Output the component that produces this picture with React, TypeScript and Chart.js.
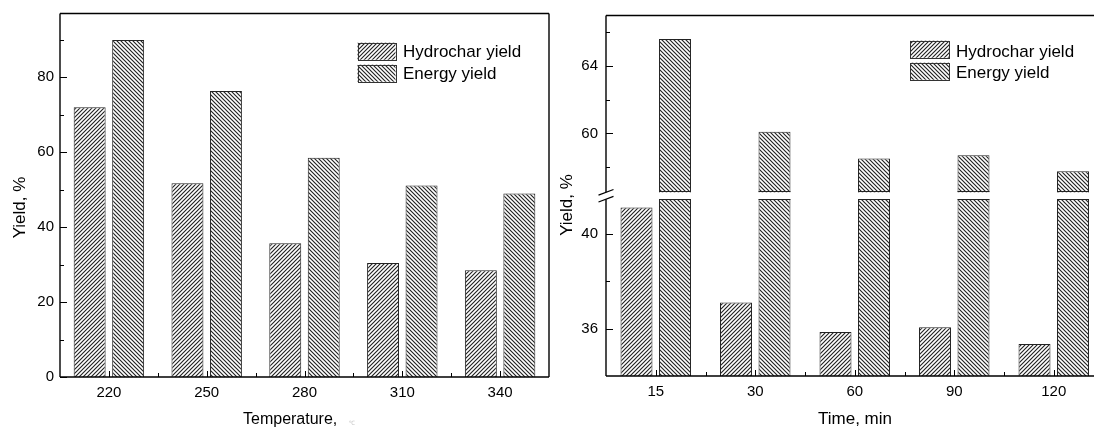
import React, { useEffect, useRef } from 'react';
import { Chart, registerables, LinearScale } from 'chart.js';

Chart.register(...registerables);

// ---------------- data ----------------
const temperatures = ['220', '250', '280', '310', '340'];
const tempHydrochar = [72.0, 51.7, 35.7, 30.4, 28.5];
const tempEnergy = [89.9, 76.3, 58.5, 51.1, 49.0];
const tempMajorTicks = [0, 20, 40, 60, 80];
const tempMinorTicks = [10, 30, 50, 70, 90];

const times = ['15', '30', '60', '90', '120'];
const timeHydrochar = [41.1, 37.1, 35.85, 36.05, 35.35];
const timeEnergy = [65.6, 60.1, 58.5, 58.7, 57.75];
const timeMajorTicks = [36, 40, 60, 64];
const timeMinorTicks = [38, 58, 62, 66];

const seriesLabels = ['Hydrochar yield', 'Energy yield'];
const yTitle = 'Yield, %';
const xTitleTemp = 'Temperature,';
const xTitleTime = 'Time, min';

// broken axis definition (values)
const BREAK_MIN = 34;
const BREAK_LOW_TOP = 41.45;
const BREAK_HIGH_BOTTOM = 56.5;
const BREAK_MAX = 67;
const LOW_FRAC = 179 / 365;
const GAP_FRAC = 7 / 365;

const FONT = '"Liberation Sans", Arial, Helvetica, sans-serif';

class BrokenLinearScale extends LinearScale {
  static id = 'brokenLinear';
  static defaults = LinearScale.defaults;

  valueToFrac(v: number) {
    if (v <= BREAK_LOW_TOP) return ((v - BREAK_MIN) / (BREAK_LOW_TOP - BREAK_MIN)) * LOW_FRAC;
    if (v <= BREAK_HIGH_BOTTOM)
      return LOW_FRAC + ((v - BREAK_LOW_TOP) / (BREAK_HIGH_BOTTOM - BREAK_LOW_TOP)) * GAP_FRAC;
    return (
      LOW_FRAC + GAP_FRAC +
      ((v - BREAK_HIGH_BOTTOM) / (BREAK_MAX - BREAK_HIGH_BOTTOM)) * (1 - LOW_FRAC - GAP_FRAC)
    );
  }
  getPixelForValue(v: any) {
    if (v === null || v === undefined || isNaN(v)) return NaN;
    const s: any = this;
    return s.bottom - this.valueToFrac(+v) * (s.bottom - s.top);
  }
  getValueForPixel(p: number) {
    const s: any = this;
    const f = (s.bottom - p) / (s.bottom - s.top);
    if (f <= LOW_FRAC) return BREAK_MIN + (f / LOW_FRAC) * (BREAK_LOW_TOP - BREAK_MIN);
    if (f <= LOW_FRAC + GAP_FRAC)
      return BREAK_LOW_TOP + ((f - LOW_FRAC) / GAP_FRAC) * (BREAK_HIGH_BOTTOM - BREAK_LOW_TOP);
    return (
      BREAK_HIGH_BOTTOM +
      ((f - LOW_FRAC - GAP_FRAC) / (1 - LOW_FRAC - GAP_FRAC)) * (BREAK_MAX - BREAK_HIGH_BOTTOM)
    );
  }
}
Chart.register(BrokenLinearScale as any);

function makeHatch(forward: boolean): CanvasPattern | string {
  const s = 4;
  const c = document.createElement('canvas');
  c.width = s;
  c.height = s;
  const g = c.getContext('2d');
  if (!g) return '#888';
  g.fillStyle = '#ffffff';
  g.fillRect(0, 0, s, s);
  g.strokeStyle = '#222222';
  g.lineWidth = 1.15;
  g.beginPath();
  if (forward) {
    g.moveTo(-1, s + 1); g.lineTo(s + 1, -1);
    g.moveTo(-1, 1); g.lineTo(1, -1);
    g.moveTo(s - 1, s + 1); g.lineTo(s + 1, s - 1);
  } else {
    g.moveTo(-1, -1); g.lineTo(s + 1, s + 1);
    g.moveTo(-1, s - 1); g.lineTo(1, s + 1);
    g.moveTo(s - 1, -1); g.lineTo(s + 1, 1);
  }
  g.stroke();
  const p = g.createPattern(c, 'repeat');
  return p || '#888';
}

type PanelCfg = {
  majors: number[];
  minors: number[];
  broken: boolean;
  legendX: number;
  legendTops: number[];
  legendBoxW: number;
  legendBoxH: number;
  legendTextX: number;
  legendBaselines: number[];
  yTitleX: number;
  yTitleY: number;
  xTitle: string;
  xTitleX: number;
  xTitleY: number;
  xTitleSize: number;
  faintMark?: { x: number; y: number };
  patterns: any[];
};

function panelPlugin(cfg: PanelCfg) {
  return {
    id: 'panelDecor',
    afterDatasetsDraw(chart: any) {
      const { ctx, chartArea } = chart;
      const { left, right, top, bottom } = chartArea;
      const x = chart.scales.x;
      const y = chart.scales.y;
      ctx.save();

      let gTop = 0;
      let gBot = 0;
      if (cfg.broken) {
        gTop = y.getPixelForValue(BREAK_HIGH_BOTTOM);
        gBot = y.getPixelForValue(BREAK_LOW_TOP);
        ctx.fillStyle = '#ffffff';
        ctx.fillRect(left + 1, gTop, right - left - 2, gBot - gTop);
        ctx.strokeStyle = '#222';
        ctx.lineWidth = 1;
        chart.data.datasets.forEach((_: any, di: number) => {
          const meta = chart.getDatasetMeta(di);
          meta.data.forEach((bar: any) => {
            const p = bar.getProps(['x', 'y', 'width', 'base'], true);
            if (p.y < gTop && p.base > gBot) {
              ctx.beginPath();
              ctx.moveTo(p.x - p.width / 2, Math.round(gTop) - 0.5);
              ctx.lineTo(p.x + p.width / 2, Math.round(gTop) - 0.5);
              ctx.moveTo(p.x - p.width / 2, Math.round(gBot) + 0.5);
              ctx.lineTo(p.x + p.width / 2, Math.round(gBot) + 0.5);
              ctx.stroke();
            }
          });
        });
      }

      // ticks (inward)
      ctx.strokeStyle = '#000';
      ctx.lineWidth = 1;
      ctx.beginPath();
      cfg.majors.forEach((v) => {
        const py = Math.round(y.getPixelForValue(v)) + 0.5;
        ctx.moveTo(left, py);
        ctx.lineTo(left + 7, py);
      });
      cfg.minors.forEach((v) => {
        const py = Math.round(y.getPixelForValue(v)) + 0.5;
        ctx.moveTo(left, py);
        ctx.lineTo(left + 4, py);
      });
      const n = chart.data.labels.length;
      for (let i = 0; i < n; i++) {
        const cx = Math.round(x.getPixelForTick(i)) + 0.5;
        ctx.moveTo(cx, bottom);
        ctx.lineTo(cx, bottom - 6);
        if (i < n - 1) {
          const bx = Math.round((x.getPixelForTick(i) + x.getPixelForTick(i + 1)) / 2) + 0.5;
          ctx.moveTo(bx, bottom);
          ctx.lineTo(bx, bottom - 4);
        }
      }
      ctx.stroke();

      // frame
      ctx.lineWidth = 1.4;
      ctx.strokeStyle = '#000';
      ctx.beginPath();
      ctx.moveTo(left, bottom);
      ctx.lineTo(right, bottom);
      ctx.moveTo(left, top);
      ctx.lineTo(right, top);
      ctx.moveTo(right, top);
      ctx.lineTo(right, bottom);
      if (cfg.broken) {
        ctx.moveTo(left, top);
        ctx.lineTo(left, gTop);
        ctx.moveTo(left, gBot);
        ctx.lineTo(left, bottom);
      } else {
        ctx.moveTo(left, top);
        ctx.lineTo(left, bottom);
      }
      ctx.stroke();
      if (cfg.broken) {
        ctx.lineWidth = 1.2;
        ctx.beginPath();
        ctx.moveTo(left - 7.5, gTop + 2.8);
        ctx.lineTo(left + 7.5, gTop - 2.8);
        ctx.moveTo(left - 7.5, gBot + 2.8);
        ctx.lineTo(left + 7.5, gBot - 2.8);
        ctx.stroke();
      }

      // legend
      ctx.font = `17px ${FONT}`;
      ctx.textAlign = 'left';
      ctx.textBaseline = 'alphabetic';
      seriesLabels.forEach((lab, i) => {
        ctx.fillStyle = cfg.patterns[i];
        ctx.fillRect(cfg.legendX, cfg.legendTops[i], cfg.legendBoxW, cfg.legendBoxH);
        ctx.strokeStyle = '#333';
        ctx.lineWidth = 1;
        ctx.strokeRect(
          Math.round(cfg.legendX) + 0.5,
          Math.round(cfg.legendTops[i]) + 0.5,
          cfg.legendBoxW,
          cfg.legendBoxH
        );
        ctx.fillStyle = '#000';
        ctx.fillText(lab, cfg.legendTextX, cfg.legendBaselines[i]);
      });

      // axis titles
      ctx.fillStyle = '#000';
      ctx.font = `${cfg.xTitleSize}px ${FONT}`;
      ctx.fillText(cfg.xTitle, cfg.xTitleX, cfg.xTitleY);
      if (cfg.faintMark) {
        ctx.fillStyle = '#c4c4c4';
        ctx.font = `6px ${FONT}`;
        ctx.fillText('℃', cfg.faintMark.x, cfg.faintMark.y);
      }
      ctx.fillStyle = '#000';
      ctx.font = `17px ${FONT}`;
      ctx.save();
      ctx.translate(cfg.yTitleX, cfg.yTitleY);
      ctx.rotate(-Math.PI / 2);
      ctx.textAlign = 'center';
      ctx.textBaseline = 'alphabetic';
      ctx.fillText(yTitle, 0, 0);
      ctx.restore();

      ctx.restore();
    },
  };
}

function makeChart(
  canvas: HTMLCanvasElement,
  labels: string[],
  hydro: number[],
  energy: number[],
  yScale: any,
  yWidth: number,
  xHeight: number,
  padding: any,
  catPct: number,
  yTickPad: number,
  cfg: Omit<PanelCfg, 'patterns'>
) {
  const patterns = [makeHatch(true), makeHatch(false)];
  const tickFont = { family: FONT, size: 15, lineHeight: 1 };
  return new Chart(canvas, {
    type: 'bar',
    data: {
      labels,
      datasets: [
        {
          label: seriesLabels[0],
          data: hydro,
          backgroundColor: patterns[0] as any,
          borderColor: '#222',
          borderWidth: 1,
          categoryPercentage: catPct,
          barPercentage: 0.83,
        },
        {
          label: seriesLabels[1],
          data: energy,
          backgroundColor: patterns[1] as any,
          borderColor: '#222',
          borderWidth: 1,
          categoryPercentage: catPct,
          barPercentage: 0.83,
        },
      ],
    },
    options: {
      animation: false,
      responsive: false,
      maintainAspectRatio: false,
      layout: { padding },
      plugins: { legend: { display: false }, tooltip: { enabled: false } },
      scales: {
        x: {
          type: 'category',
          grid: { display: false, drawTicks: false },
          border: { display: false },
          ticks: {
            color: '#000',
            font: tickFont,
            padding: 8,
            maxRotation: 0,
            autoSkip: false,
          },
          afterFit: (s: any) => {
            s.height = xHeight;
          },
        },
        y: {
          ...yScale,
          grid: { display: false, drawTicks: false },
          border: { display: false },
          ticks: { color: '#000', font: tickFont, padding: yTickPad },
          afterBuildTicks: (s: any) => {
            s.ticks = cfg.majors.map((v) => ({ value: v }));
          },
          afterFit: (s: any) => {
            s.width = yWidth;
          },
        },
      },
    } as any,
    plugins: [panelPlugin({ ...cfg, patterns })],
  });
}

export default function App() {
  const leftRef = useRef<HTMLCanvasElement | null>(null);
  const rightRef = useRef<HTMLCanvasElement | null>(null);

  useEffect(() => {
    if (!leftRef.current || !rightRef.current) return;
    const c1 = makeChart(
      leftRef.current,
      temperatures,
      tempHydrochar,
      tempEnergy,
      { type: 'linear', min: 0, max: 97 },
      60,
      50,
      { left: 0, top: 13, right: 1, bottom: 0 },
      0.787,
      6,
      {
        majors: tempMajorTicks,
        minors: tempMinorTicks,
        broken: false,
        legendX: 357.5,
        legendTops: [42.7, 64.7],
        legendBoxW: 38,
        legendBoxH: 17,
        legendTextX: 403,
        legendBaselines: [57.3, 79],
        yTitleX: 25,
        yTitleY: 207.5,
        xTitle: xTitleTemp,
        xTitleX: 243,
        xTitleY: 423.5,
        xTitleSize: 16,
        faintMark: { x: 349, y: 425 },
      }
    );
    const c2 = makeChart(
      rightRef.current,
      times,
      timeHydrochar,
      timeEnergy,
      { type: 'brokenLinear', min: BREAK_MIN, max: BREAK_MAX },
      56,
      51,
      { left: 0, top: 11, right: 6.5, bottom: 0 },
      0.774,
      8,
      {
        majors: timeMajorTicks,
        minors: timeMinorTicks,
        broken: true,
        legendX: 360,
        legendTops: [40.7, 62.7],
        legendBoxW: 39,
        legendBoxH: 17,
        legendTextX: 406,
        legendBaselines: [56.7, 77.7],
        yTitleX: 21.7,
        yTitleY: 205,
        xTitle: xTitleTime,
        xTitleX: 268,
        xTitleY: 424,
        xTitleSize: 17,
      }
    );
    return () => {
      c1.destroy();
      c2.destroy();
    };
  }, []);

  return (
    <div
      style={{
        position: 'fixed',
        left: 0,
        top: 0,
        width: 1094,
        height: 427,
        overflow: 'hidden',
        background: '#ffffff',
      }}
    >
      <canvas
        ref={leftRef}
        width={550}
        height={427}
        style={{ position: 'absolute', left: 0, top: 0, width: 550, height: 427 }}
      />
      <canvas
        ref={rightRef}
        width={560}
        height={427}
        style={{ position: 'absolute', left: 550, top: 0, width: 560, height: 427 }}
      />
    </div>
  );
}
